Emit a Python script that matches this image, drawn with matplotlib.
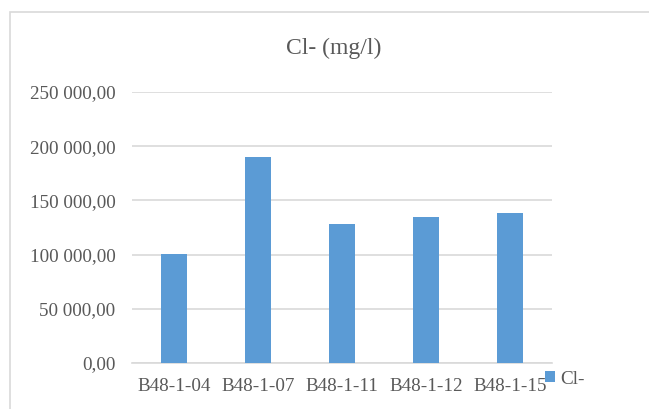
import matplotlib.pyplot as plt
import numpy as np
from matplotlib.patches import Rectangle
from matplotlib.ticker import FuncFormatter

samples = ["B48-1-04", "B48-1-07", "B48-1-11", "B48-1-12", "B48-1-15"]
cl_values = [100500, 190100, 128000, 134700, 138400]
y_ticks = [0, 50000, 100000, 150000, 200000, 250000]

C_BAR = "#5B9BD5"
C_TEXT = "#595959"
C_GRID = "#D9D9D9"

plt.rcParams.update({
    "font.family": ["Liberation Serif", "DejaVu Serif"],
    "font.size": 13.8,
})


def fmt_tick(v, _pos):
    s = f"{v:,.2f}".replace(",", " ").replace(".", ",")
    return s


fig = plt.figure(figsize=(6.49, 4.09), dpi=100)
W, H = 649, 409
ax = fig.add_axes([132 / W, 1 - 363 / H, (552 - 132) / W, (363 - 92) / H])

x = np.arange(len(samples))
ax.bar(x, cl_values, width=0.31, color=C_BAR, label="Cl-", zorder=3)

ax.set_xlim(-0.5, len(samples) - 0.5)
ax.set_ylim(0, 250000)
ax.set_yticks(y_ticks)
ax.yaxis.set_major_formatter(FuncFormatter(fmt_tick))
ax.set_xticks(x)
ax.set_xticklabels(samples)
ax.tick_params(axis="both", length=0, colors=C_TEXT, labelsize=13.8)
ax.tick_params(axis="y", pad=12)
ax.tick_params(axis="x", pad=11)
ax.grid(axis="y", color=C_GRID, lw=1.2, zorder=1)
for side in ["top", "right", "left"]:
    ax.spines[side].set_visible(False)
ax.spines["bottom"].set_color(C_GRID)
ax.spines["bottom"].set_linewidth(1.2)

fig.text(333.5 / W, 1 - 48.5 / H, "Cl- (mg/l)", ha="center", va="center",
         fontsize=17, color=C_TEXT)

ax.legend(loc="center left", bbox_to_anchor=(545 / W, 1 - 379 / H),
          bbox_transform=fig.transFigure, frameon=False, borderpad=0,
          handlelength=0.5, handleheight=0.5, handletextpad=0.28,
          borderaxespad=0, labelcolor=C_TEXT, fontsize=13.8)

# chart area border (right and bottom edges fall outside the image)
fig.patches.append(Rectangle((10 / W, -0.1), 1.2, 1 - 12 / H + 0.1,
                             transform=fig.transFigure, fill=False,
                             edgecolor=C_GRID, lw=1.2))

fig.savefig("out.png", dpi=100, facecolor="white")
